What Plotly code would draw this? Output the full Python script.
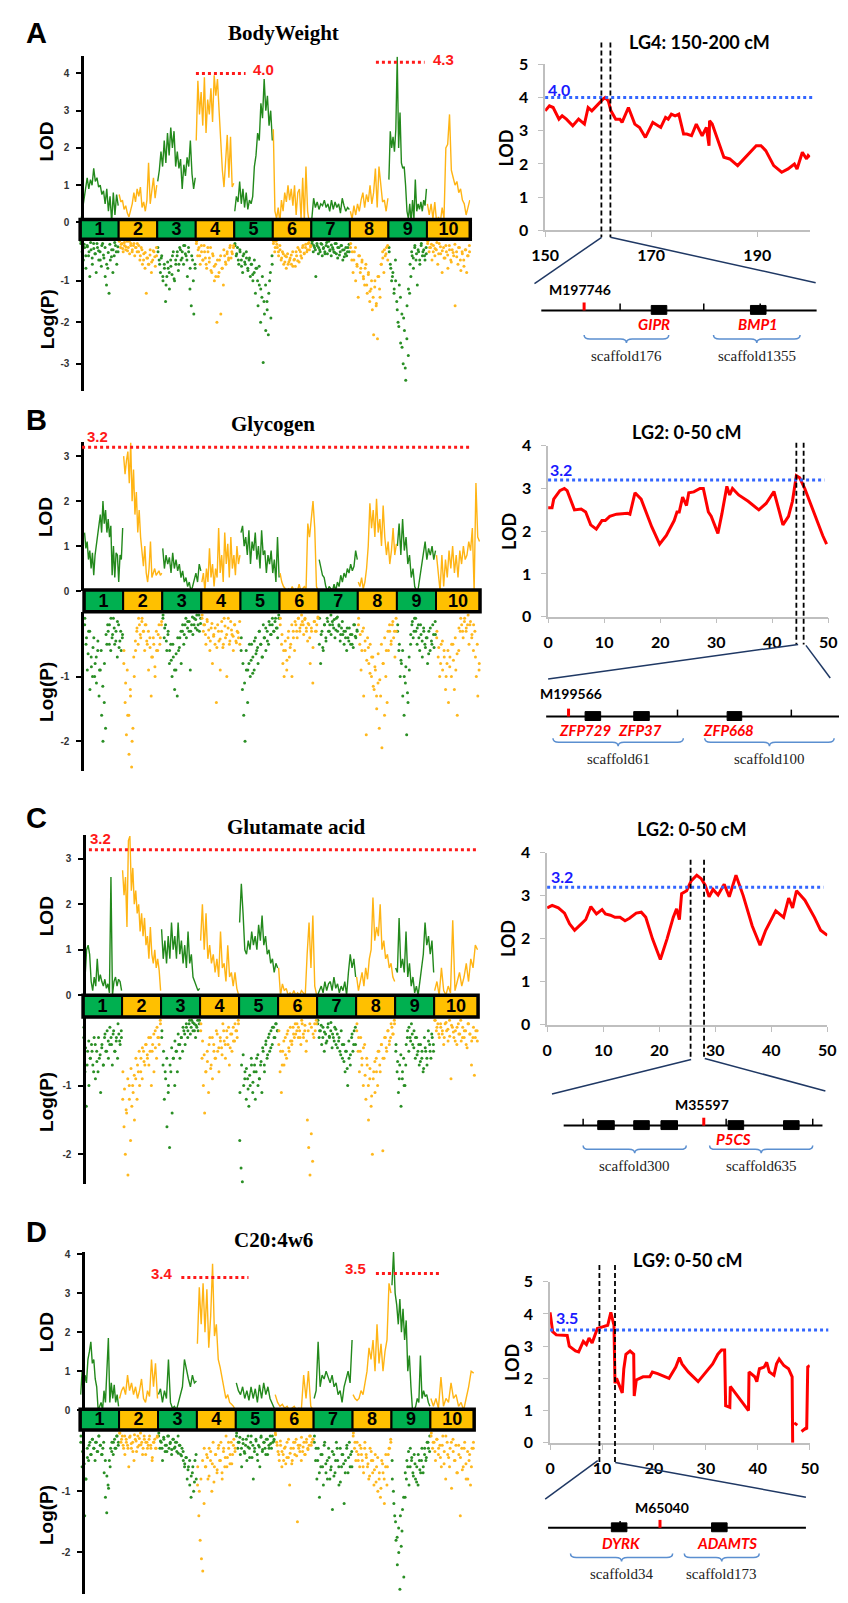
import plotly.graph_objects as go

W, H = 848, 1603

# ------------------------------------------------------------------ data
CHROMS = ['1', '2', '3', '4', '5', '6', '7', '8', '9', '10']
CHR_LEN = [40, 40, 40, 40, 40, 40, 40, 40, 40, 45]

# A  BodyWeight : LOD per linkage group (line) and -log10(P) per marker (dots)
BW_LOD = [
    [0.0, 0.3, 0.6, 0.9, 1.2, 0.9, 1.15, 1.0, 1.45, 1.1, 1.2, 0.95, 1.0, 0.75, 0.85, 0.5, 0.9, 0.3, 0.7, 0.0, 0.8, 0.2, 0.75, 0.45],
    [0.75, 0.55, 0.6, 0.35, 0.45, 0.25, 0.15, 0.3, 0.5, 0.8, 0.55, 0.9, 0.7, 0.95, 0.4, 0.55, 0.3, 0.6, 1.6, 0.5, 0.85, 1.2, 0.65, 1.0],
    [1.1, 1.4, 1.9, 1.5, 2.2, 1.6, 2.4, 1.8, 2.55, 2.0, 2.45, 1.5, 1.9, 1.45, 1.7, 0.9, 1.55, 1.25, 1.75, 1.5, 2.2, 1.3, 0.9, 1.2],
    [2.2, 3.8, 2.9, 3.5, 2.6, 3.9, 2.4, 3.3, 2.9, 3.6, 2.7, 3.95, 3.4, 3.85, 3.0, 2.1, 1.4, 0.95, 1.75, 2.35, 1.2, 2.3, 0.95, 1.05],
    [0.3, 0.7, 0.55, 1.1, 0.5, 0.9, 0.4, 0.8, 0.35, 0.6, 0.5, 0.7, 1.5, 1.8, 2.4, 2.2, 3.2, 2.8, 3.85, 3.0, 3.4, 2.6, 3.0, 2.2],
    [2.5, 0.3, 0.1, 0.4, 0.0, 0.6, 0.3, 0.8, 0.55, 1.0, 0.6, 0.9, 0.45, 1.0, 0.2, 0.8, 0.9, 0.1, 1.2, 0.05, 1.5, 0.3, 0.0, 0.1],
    [0.1, 0.65, 0.4, 0.55, 0.35, 0.5, 0.45, 0.6, 0.4, 0.5, 0.3, 0.6, 0.35, 0.55, 0.4, 0.5, 0.25, 0.65, 0.45, 0.3, 0.4, 0.35],
    [0.3, 0.1, 0.45, 0.2, 0.5, 0.3, 0.6, 0.8, 0.4, 0.75, 0.55, 1.0, 0.5, 0.8, 1.45, 0.4, 1.5, 0.9, 0.55, 0.6, 0.3, 0.65],
    [1.15, 2.45, 2.0, 2.3, 1.9, 2.5, 4.45, 2.0, 2.95, 1.6, 1.45, 1.5, 1.0, 0.3, 0.1, 0.5, 0.0, 0.6, 0.1, 1.15, 0.3, 0.5, 0.35, 0.55, 0.3, 0.6, 0.45, 0.9],
    [0.5, 0.2, 0.5, 0.1, 0.55, 0.0, 0.15, 0.0, 0.4, 0.1, 2.0, 2.1, 2.9, 1.4, 1.2, 1.0, 1.1, 0.8, 0.9, 0.6, 0.5, 0.2, 0.4, 0.6],
]
BW_NLOGP = [
    [0.1, 0.3, 0.5, 0.2, 0.7, 0.15, 0.4, 0.9, 0.25, 0.6, 0.1, 0.35, 0.8, 0.2, 0.5, 0.3, 0.65, 0.1, 0.45, 0.9, 1.1, 0.7, 1.3, 0.5, 0.25, 0.8, 0.4, 0.15, 0.6, 0.3],
    [0.05, 0.2, 0.1, 0.3, 0.15, 0.25, 0.05, 0.2, 0.35, 0.1, 0.3, 0.15, 0.4, 0.2, 0.1, 0.3, 0.5, 0.2, 0.6, 0.35, 0.7, 1.3, 0.45, 0.6, 0.25, 0.8, 0.5, 0.3, 0.65, 0.4],
    [0.2, 0.5, 0.8, 0.4, 1.0, 0.6, 1.5, 0.9, 0.7, 1.2, 0.5, 0.85, 0.3, 1.0, 0.6, 0.4, 0.75, 0.2, 0.5, 0.3, 0.6, 0.15, 0.4, 0.9, 0.3, 1.2, 1.6, 0.5, 1.8, 0.7],
    [0.1, 0.4, 0.2, 0.6, 0.3, 0.5, 0.15, 0.45, 0.7, 0.3, 0.55, 0.2, 0.8, 0.4, 1.0, 0.6, 2.0, 0.9, 0.5, 1.8, 0.7, 1.1, 0.4, 0.6, 0.3, 0.5, 0.2, 0.45, 0.35, 0.15],
    [0.1, 0.4, 0.2, 0.6, 0.3, 0.5, 0.8, 0.35, 0.6, 0.45, 0.7, 0.5, 0.9, 0.6, 1.0, 0.8, 1.3, 0.7, 1.6, 1.1, 2.0, 1.4, 2.97, 1.8, 2.2, 1.5, 2.3, 1.0, 1.9, 0.6],
    [0.1, 0.3, 0.05, 0.2, 0.4, 0.15, 0.5, 0.3, 0.6, 0.4, 0.7, 0.35, 0.55, 0.45, 0.6, 0.3, 0.5, 0.65, 0.4, 0.2, 0.55, 0.3, 0.45, 0.15, 0.35, 0.2, 0.3, 0.1, 0.25, 0.15],
    [0.1, 0.3, 0.2, 0.9, 0.15, 0.35, 0.25, 0.1, 0.4, 0.2, 0.3, 0.15, 0.35, 0.05, 0.25, 0.4, 0.2, 0.3, 0.1, 0.35, 0.45, 0.2, 0.3, 0.15, 0.5, 0.25, 0.35, 0.4, 0.2, 0.3],
    [0.2, 0.5, 0.8, 0.3, 1.0, 0.6, 1.4, 0.4, 0.7, 0.5, 0.9, 1.1, 0.6, 1.3, 0.8, 1.5, 1.2, 1.7, 2.3, 1.0, 1.6, 2.4, 0.9, 1.4, 0.6, 0.3, 0.8, 0.4, 0.2, 0.5],
    [0.2, 0.6, 1.0, 0.8, 1.2, 0.5, 1.5, 2.0, 1.1, 2.5, 1.8, 3.0, 2.2, 3.4, 1.6, 2.8, 1.3, 0.9, 0.4, 0.7, 0.2, 0.5, 1.1, 0.3, 0.6, 0.15, 0.4, 0.25, 0.5, 0.35],
    [0.1, 0.3, 0.2, 0.5, 0.15, 0.4, 0.25, 0.6, 0.1, 0.35, 0.8, 0.2, 0.45, 0.3, 0.7, 0.15, 0.5, 0.25, 0.4, 1.6, 0.3, 0.6, 0.2, 0.75, 0.35, 0.5, 0.25, 0.8, 0.4, 0.3],
]
BW_NLOGP_BAND = [
    [0.05, 0.25, 0.12, 0.4, 0.18, 0.3, 0.08, 0.45, 0.22, 0.35, 0.1, 0.28, 0.5, 0.15, 0.38, 0.2, 0.6, 0.32, 0.12, 0.42, 0.25, 0.08, 0.3, 0.18],
    [0.03, 0.12, 0.22, 0.08, 0.18, 0.28, 0.05, 0.15, 0.25, 0.1, 0.2, 0.3, 0.15, 0.4, 0.25, 0.5, 0.32, 0.45, 0.6, 0.38, 0.55, 0.28, 0.42, 0.2],
    [0.3, 0.6, 0.45, 0.9, 0.7, 1.1, 0.55, 0.8, 0.65, 0.4, 0.95, 0.5, 0.3, 0.6, 0.25, 0.45, 0.15, 0.35, 0.5, 0.2, 0.7, 0.4, 1.0, 0.6],
    [0.05, 0.25, 0.4, 0.15, 0.5, 0.3, 0.6, 0.2, 0.45, 0.75, 0.35, 0.65, 0.9, 0.5, 0.8, 0.4, 0.7, 0.25, 0.55, 0.35, 0.45, 0.15, 0.3, 0.2],
    [0.15, 0.35, 0.5, 0.25, 0.65, 0.4, 0.55, 0.3, 0.75, 0.45, 0.6, 0.85, 0.5, 0.7, 1.0, 0.65, 1.2, 0.9, 1.5, 1.1, 1.7, 1.3, 0.8, 0.4],
    [0.05, 0.2, 0.12, 0.3, 0.25, 0.45, 0.35, 0.55, 0.42, 0.6, 0.5, 0.38, 0.65, 0.48, 0.3, 0.52, 0.25, 0.4, 0.2, 0.33, 0.12, 0.25, 0.08, 0.18],
    [0.05, 0.15, 0.25, 0.1, 0.2, 0.3, 0.12, 0.22, 0.35, 0.08, 0.18, 0.28, 0.14, 0.24, 0.32, 0.1, 0.2, 0.38, 0.15, 0.26, 0.42, 0.2, 0.3, 0.12],
    [0.1, 0.3, 0.5, 0.2, 0.65, 0.4, 0.8, 0.55, 0.95, 0.7, 1.1, 0.85, 1.25, 1.0, 1.4, 1.15, 1.55, 0.9, 1.2, 0.6, 0.45, 0.25, 0.35, 0.15],
    [0.3, 0.7, 0.9, 1.3, 1.0, 1.7, 2.1, 1.4, 2.6, 1.9, 3.1, 2.4, 1.2, 0.6, 0.3, 0.45, 0.15, 0.35, 0.25, 0.5, 0.1, 0.3, 0.4, 0.2],
    [0.05, 0.2, 0.12, 0.3, 0.22, 0.08, 0.35, 0.18, 0.28, 0.45, 0.15, 0.38, 0.25, 0.55, 0.32, 0.12, 0.42, 0.2, 0.5, 0.3, 0.65, 0.25, 0.4, 0.15],
]
BW_THR = [4.0, 4.3]

# B  Glycogen
GLY_LOD = [
    [1.3, 0.95, 1.1, 0.7, 0.9, 0.5, 0.85, 0.35, 0.8, 1.0, 1.3, 1.5, 1.7, 1.3, 2.0, 1.5, 1.8, 1.3, 1.6, 1.2, 1.45, 0.35, 1.0, 0.3, 0.85, 0.8, 0.2, 0.8, 0.7, 1.4],
    [3.0, 2.6, 2.9, 3.1, 2.4, 3.3, 2.0, 2.7, 1.7, 2.2, 1.3, 1.8, 1.2, 0.8, 0.55, 1.0, 0.4, 0.2, 0.5, 1.1, 0.3, 0.4, 0.5, 0.35, 0.4, 0.45, 0.35, 0.4],
    [0.95, 0.5, 0.8, 0.6, 0.75, 0.4, 0.85, 0.5, 0.7, 0.45, 0.6, 0.3, 0.45, 0.2, 0.3, 0.1, 0.2, 0.0, 0.1, 0.25, 0.4, 0.2, 0.6, 0.45],
    [0.2, 0.4, 0.0, 0.5, 0.2, 0.95, 0.3, 0.6, 0.1, 0.5, 0.3, 1.4, 0.4, 0.8, 0.2, 1.3, 0.6, 1.05, 0.3, 1.2, 0.5, 0.8, 0.35, 1.0, 0.6, 0.8],
    [1.3, 1.45, 1.0, 1.2, 0.8, 1.35, 0.6, 1.1, 0.9, 1.3, 0.7, 1.0, 0.5, 1.35, 0.8, 0.9, 0.4, 0.8, 0.6, 0.9, 0.4, 0.7, 0.2, 1.2, 0.3],
    [0.4, 0.2, 0.1, 0.05, 0.0, 0.05, 0.0, 0.1, 0.0, 0.05, 0.0, 0.15, 0.0, 0.05, 0.1, 0.05, 1.5, 1.2, 1.6, 2.0, 1.4, 0.1, 0.0],
    [0.7, 0.5, 0.35, 0.3, 0.1, 0.0, 0.1, 0.05, 0.0, 0.15, 0.0, 0.2, 0.1, 0.35, 0.2, 0.4, 0.3, 0.5, 0.4, 0.6, 0.45, 0.55, 0.9, 0.7],
    [0.2, 0.1, 0.3, 0.05, 0.2, 0.5, 1.0, 1.95, 1.4, 1.8, 1.2, 2.05, 1.3, 1.6, 1.0, 1.9, 1.2, 0.8, 1.1, 0.6, 0.9, 1.4, 0.8, 1.05],
    [1.0, 1.5, 0.8, 1.6, 0.9, 1.2, 0.6, 0.8, 0.3, 0.5, 0.1, 0.0, 0.05, 0.3, 0.5, 0.8, 1.1, 0.7, 0.95, 0.8, 1.0, 0.7, 0.9],
    [0.8, 0.4, 0.0, 0.8, 0.1, 0.7, 0.3, 0.9, 0.5, 1.0, 0.4, 0.8, 0.3, 0.9, 0.6, 1.0, 0.7, 0.8, 1.1, 0.9, 1.4, 0.0, 2.4, 1.2, 1.1],
]
GLY_NLOGP = [
    [0.2, 0.5, 0.9, 0.3, 1.2, 0.7, 1.0, 0.4, 0.8, 1.1, 0.6, 1.3, 0.9, 1.6, 2.0, 1.4, 1.8, 0.5, 0.3, 0.2, 0.6, 0.4, 0.1, 0.5, 0.3, 0.7, 0.2, 0.45, 0.6, 0.35],
    [0.8, 1.4, 1.9, 1.6, 2.2, 1.2, 2.4, 1.8, 1.0, 0.6, 0.3, 0.5, 0.2, 0.4, 0.1, 0.3, 0.6, 0.2, 0.5, 0.9, 0.4, 1.3, 0.7, 0.5, 1.0, 0.3, 0.6, 0.2, 0.4, 0.15],
    [0.1, 0.4, 0.2, 0.6, 0.3, 0.8, 0.5, 1.0, 0.7, 1.2, 0.9, 1.3, 0.6, 0.4, 0.8, 0.3, 0.5, 0.2, 0.4, 0.15, 0.3, 0.9, 0.2, 0.35, 0.1, 0.25, 0.05, 0.2, 0.3, 0.1],
    [0.1, 0.3, 0.2, 0.5, 0.15, 0.4, 0.6, 0.25, 0.8, 0.35, 0.5, 1.4, 0.2, 0.45, 0.9, 0.3, 0.55, 0.1, 0.4, 1.0, 0.25, 0.5, 0.15, 0.35, 0.6, 0.2, 0.45, 0.3, 0.4, 0.5],
    [0.6, 1.2, 1.6, 2.0, 0.9, 1.4, 0.8, 1.0, 0.5, 0.7, 0.9, 0.4, 0.6, 0.8, 0.3, 0.5, 0.7, 0.2, 0.4, 0.6, 0.3, 0.5, 0.2, 0.35, 0.1, 0.3, 0.15, 0.25, 0.4, 0.1],
    [0.2, 0.5, 0.8, 1.0, 0.6, 0.9, 0.4, 0.7, 0.5, 1.0, 0.3, 0.6, 0.2, 0.4, 0.1, 0.3, 0.2, 0.15, 0.35, 0.1, 0.25, 0.45, 0.2, 0.8, 0.3, 1.1, 0.15, 0.3, 0.2, 0.1],
    [0.5, 0.8, 0.3, 0.6, 0.2, 0.4, 0.1, 0.3, 0.2, 0.35, 0.15, 0.25, 0.4, 0.1, 0.3, 0.2, 0.45, 0.25, 0.35, 0.5, 0.3, 0.6, 0.4, 0.25, 0.5, 0.35, 0.55, 0.2, 0.4, 0.3],
    [0.2, 0.5, 0.9, 0.3, 1.3, 0.6, 1.9, 0.4, 0.8, 0.5, 1.0, 0.7, 1.2, 0.9, 1.5, 1.1, 1.8, 1.3, 2.1, 0.8, 1.6, 1.0, 1.4, 0.6, 0.3, 0.5, 0.2, 0.4, 0.7, 0.3],
    [0.3, 0.6, 1.0, 0.8, 1.3, 1.6, 1.1, 1.9, 1.4, 0.9, 0.5, 0.2, 0.4, 0.1, 0.3, 0.5, 0.2, 0.6, 0.35, 0.7, 0.25, 0.5, 0.4, 0.8, 0.3, 0.6, 0.45, 0.2, 0.55, 0.35],
    [0.4, 0.7, 1.0, 0.5, 0.9, 0.6, 1.2, 0.8, 1.4, 0.7, 1.0, 0.5, 1.2, 0.9, 1.6, 0.6, 0.3, 0.2, 0.4, 0.1, 0.3, 0.2, 0.5, 0.15, 0.35, 0.6, 0.3, 1.0, 1.3, 0.8],
]
GLY_NLOGP_BAND = [
    [0.1, 0.4, 0.65, 0.3, 0.85, 0.55, 1.0, 0.7, 0.45, 0.9, 0.6, 1.15, 0.8, 0.35, 0.2, 0.5, 0.1, 0.35, 0.25, 0.45, 0.15, 0.55, 0.3, 0.4],
    [0.6, 1.1, 0.9, 1.6, 1.3, 2.0, 0.7, 0.45, 0.25, 0.1, 0.35, 0.15, 0.3, 0.2, 0.45, 0.3, 0.55, 0.7, 0.4, 0.85, 0.6, 0.35, 0.5, 0.2],
    [0.05, 0.25, 0.45, 0.35, 0.6, 0.75, 0.5, 0.9, 0.65, 0.4, 0.55, 0.3, 0.2, 0.35, 0.1, 0.25, 0.15, 0.3, 0.08, 0.2, 0.12, 0.28, 0.05, 0.18],
    [0.05, 0.2, 0.35, 0.12, 0.28, 0.45, 0.18, 0.38, 0.25, 0.55, 0.3, 0.42, 0.15, 0.5, 0.22, 0.35, 0.1, 0.45, 0.28, 0.38, 0.2, 0.48, 0.32, 0.15],
    [0.4, 0.8, 1.1, 0.6, 0.9, 0.5, 0.75, 0.95, 0.45, 0.65, 0.55, 0.3, 0.5, 0.7, 0.4, 0.25, 0.45, 0.15, 0.35, 0.2, 0.3, 0.1, 0.25, 0.05],
    [0.1, 0.35, 0.6, 0.45, 0.75, 0.3, 0.55, 0.2, 0.4, 0.15, 0.3, 0.1, 0.25, 0.05, 0.2, 0.12, 0.3, 0.18, 0.4, 0.25, 0.55, 0.15, 0.3, 0.08],
    [0.1, 0.35, 0.55, 0.2, 0.45, 0.15, 0.3, 0.05, 0.2, 0.12, 0.28, 0.08, 0.22, 0.35, 0.15, 0.3, 0.4, 0.25, 0.45, 0.35, 0.5, 0.2, 0.38, 0.28],
    [0.1, 0.35, 0.6, 0.25, 0.45, 0.75, 0.55, 0.95, 0.7, 1.15, 0.85, 1.3, 0.65, 1.05, 0.5, 0.8, 0.4, 0.6, 0.3, 0.2, 0.45, 0.15, 0.3, 0.1],
    [0.2, 0.5, 0.75, 0.6, 1.0, 0.85, 1.25, 0.7, 0.35, 0.15, 0.3, 0.1, 0.25, 0.4, 0.2, 0.45, 0.3, 0.55, 0.4, 0.65, 0.25, 0.5, 0.35, 0.15],
    [0.3, 0.55, 0.8, 0.45, 0.7, 1.0, 0.6, 0.85, 0.5, 0.75, 0.4, 0.65, 0.25, 0.1, 0.3, 0.15, 0.25, 0.05, 0.2, 0.4, 0.2, 0.7, 0.5, 0.9],
]
GLY_THR = [3.2]

# C  Glutamate acid
GLU_LOD = [
    [0.6, 0.4, 1.0, 1.1, 0.9, 0.3, 0.1, 0.4, 0.2, 0.8, 0.3, 0.45, 0.3, 0.2, 0.35, 0.15, 0.25, 0.05, 2.6, 0.0, 0.3, 0.4, 0.2, 0.35, 0.3, 0.1],
    [2.75, 2.2, 2.6, 1.5, 3.4, 3.5, 2.3, 2.8, 2.0, 2.3, 1.8, 2.0, 1.4, 1.8, 1.3, 1.7, 1.1, 1.3, 0.8, 1.5, 0.9, 0.7, 1.0, 0.6, 0.8, 0.55, 0.1],
    [1.45, 0.8, 1.2, 0.7, 1.3, 0.8, 1.6, 1.0, 1.3, 0.8, 1.6, 0.9, 1.2, 0.7, 1.1, 0.6, 1.4, 0.7, 0.9, 0.4, 0.3, 0.2, 0.1, 0.15],
    [1.2, 2.0, 1.0, 1.8, 0.8, 1.1, 0.7, 0.9, 0.5, 0.8, 0.4, 1.4, 0.6, 0.7, 0.3, 1.1, 0.4, 0.5, 0.2, 0.5, 0.15, 0.0],
    [1.6, 2.45, 1.8, 1.0, 0.9, 1.2, 1.0, 1.4, 1.1, 1.3, 1.0, 1.55, 1.2, 1.75, 1.1, 1.3, 0.9, 1.0, 0.7, 0.8, 0.5, 0.7, 0.6],
    [0.6, 0.0, 0.25, 0.1, 0.15, 0.0, 0.05, 0.0, 0.1, 0.0, 0.05, 0.0, 0.1, 0.05, 0.0, 0.9, 1.6, 0.6, 1.75, 0.2, 0.0],
    [0.0, 0.1, 0.2, 0.05, 0.3, 0.1, 0.25, 0.3, 0.1, 0.4, 0.15, 0.25, 0.05, 0.2, 0.1, 0.3, 0.0, 0.5, 0.9, 0.6, 0.8, 0.4],
    [0.4, 0.1, 0.3, 0.5, 0.2, 0.6, 0.35, 0.8, 1.0, 2.15, 1.2, 1.5, 1.3, 2.0, 1.0, 1.2, 0.8, 0.9, 0.6, 0.7, 0.4, 0.3],
    [0.6, 0.5, 1.7, 0.6, 0.8, 0.5, 1.4, 0.4, 0.7, 0.2, 0.4, 0.05, 0.2, 0.0, 0.3, 0.6, 0.9, 1.6, 1.1, 1.3, 0.9, 1.2, 0.5],
    [0.1, 0.3, 0.0, 0.6, 0.1, 0.0, 0.2, 0.05, 1.65, 0.1, 0.3, 0.5, 0.2, 0.4, 0.7, 0.3, 0.8, 0.6, 1.1, 1.0],
]
GLU_NLOGP = [
    [0.3, 0.8, 1.3, 0.5, 1.0, 0.6, 0.4, 0.7, 0.3, 0.9, 0.5, 0.8, 0.6, 1.1, 0.4, 0.7, 0.3, 0.5, 0.2, 0.6, 0.4, 0.3, 0.7, 0.2, 0.5, 0.35, 0.6, 0.25, 0.4, 0.3],
    [1.2, 1.6, 2.0, 1.4, 2.3, 1.0, 1.8, 1.3, 1.1, 1.5, 0.9, 1.2, 0.8, 1.0, 0.6, 0.9, 0.5, 0.7, 0.4, 0.6, 0.3, 0.5, 1.0, 0.4, 0.8, 0.2, 0.6, 0.3, 0.4, 0.1],
    [0.3, 0.7, 1.2, 0.9, 1.6, 1.1, 1.9, 0.8, 1.4, 0.6, 1.0, 0.5, 0.8, 0.4, 0.6, 0.3, 0.5, 0.2, 0.4, 0.15, 0.3, 0.1, 0.25, 0.05, 0.2, 0.1, 0.3, 0.15, 0.2, 0.05],
    [0.2, 0.6, 1.0, 1.4, 0.8, 0.5, 1.1, 0.3, 0.7, 0.9, 0.4, 0.6, 0.2, 0.5, 0.8, 0.3, 0.45, 0.1, 0.35, 0.6, 0.2, 0.4, 0.7, 0.25, 0.5, 0.15, 0.35, 0.2, 0.3, 0.1],
    [1.8, 2.2, 2.4, 1.0, 0.8, 1.2, 0.9, 1.3, 1.0, 0.7, 1.1, 0.8, 1.2, 0.6, 1.0, 0.9, 0.7, 1.1, 0.5, 0.8, 0.4, 0.6, 0.3, 0.5, 0.2, 0.4, 0.15, 0.3, 0.1, 0.2],
    [0.4, 0.8, 1.1, 0.5, 0.7, 0.3, 0.6, 0.2, 0.5, 0.35, 0.4, 0.15, 0.3, 0.25, 0.1, 0.3, 0.2, 0.4, 0.1, 0.3, 0.2, 0.5, 1.5, 1.9, 2.3, 1.7, 2.1, 0.3, 0.2, 0.1],
    [0.1, 0.3, 0.2, 0.4, 0.15, 0.5, 0.25, 0.35, 0.1, 0.3, 0.2, 0.45, 0.3, 0.15, 0.4, 0.25, 0.35, 0.5, 0.2, 0.6, 0.4, 0.8, 0.5, 1.0, 0.6, 0.7, 0.3, 0.5, 0.2, 0.4],
    [0.2, 0.5, 0.8, 0.3, 0.6, 1.0, 0.4, 1.2, 0.7, 1.5, 0.9, 1.3, 2.0, 0.8, 1.1, 0.6, 1.0, 0.5, 0.8, 0.4, 1.95, 0.6, 0.3, 0.5, 0.2, 0.4, 0.3, 0.15, 0.25, 0.1],
    [0.5, 0.8, 1.1, 0.7, 1.3, 0.9, 0.6, 1.0, 0.4, 0.2, 0.5, 0.3, 0.1, 0.4, 0.2, 0.6, 0.3, 0.5, 0.7, 0.4, 0.6, 0.8, 0.3, 0.5, 0.7, 0.2, 0.4, 0.6, 0.3, 0.5],
    [0.05, 0.2, 0.1, 0.3, 0.15, 0.25, 0.4, 0.1, 0.2, 0.35, 0.05, 0.9, 0.15, 0.3, 0.2, 0.4, 0.1, 0.25, 0.35, 0.15, 0.3, 0.2, 0.45, 0.1, 0.25, 0.7, 0.3, 0.85, 0.2, 0.35],
]
GLU_NLOGP_BAND = [
    [0.15, 0.45, 0.7, 0.35, 0.6, 0.5, 0.8, 0.4, 0.65, 0.3, 0.55, 0.45, 0.7, 0.25, 0.5, 0.35, 0.15, 0.4, 0.25, 0.5, 0.3, 0.1, 0.35, 0.2],
    [0.8, 1.05, 1.35, 0.9, 1.2, 0.75, 1.0, 0.85, 0.6, 0.7, 0.5, 0.8, 0.45, 0.65, 0.4, 0.55, 0.7, 0.3, 0.5, 0.25, 0.45, 0.15, 0.3, 0.05],
    [0.2, 0.5, 0.8, 0.6, 1.0, 0.7, 0.45, 0.6, 0.35, 0.5, 0.25, 0.4, 0.3, 0.15, 0.25, 0.1, 0.2, 0.05, 0.15, 0.08, 0.2, 0.12, 0.05, 0.1],
    [0.1, 0.35, 0.55, 0.8, 0.65, 0.4, 0.75, 0.3, 0.5, 0.6, 0.25, 0.45, 0.35, 0.55, 0.2, 0.4, 0.3, 0.15, 0.45, 0.25, 0.35, 0.1, 0.2, 0.05],
    [1.1, 0.7, 0.55, 0.9, 0.75, 1.05, 0.85, 0.6, 0.95, 0.7, 0.8, 0.55, 0.9, 0.65, 0.45, 0.7, 0.35, 0.55, 0.25, 0.45, 0.15, 0.3, 0.1, 0.2],
    [0.2, 0.5, 0.7, 0.35, 0.55, 0.25, 0.45, 0.15, 0.35, 0.25, 0.1, 0.2, 0.15, 0.3, 0.05, 0.25, 0.12, 0.35, 0.2, 0.1, 0.15, 0.25, 0.1, 0.05],
    [0.05, 0.2, 0.12, 0.3, 0.22, 0.38, 0.15, 0.28, 0.08, 0.25, 0.35, 0.18, 0.45, 0.3, 0.55, 0.4, 0.65, 0.5, 0.75, 0.35, 0.55, 0.25, 0.4, 0.15],
    [0.1, 0.3, 0.5, 0.7, 0.45, 0.85, 0.6, 1.0, 0.75, 1.15, 0.9, 0.65, 0.8, 0.5, 0.7, 0.4, 0.6, 0.3, 0.45, 0.2, 0.35, 0.1, 0.25, 0.05],
    [0.4, 0.65, 0.9, 0.55, 0.8, 1.0, 0.7, 0.3, 0.15, 0.35, 0.25, 0.45, 0.3, 0.55, 0.4, 0.65, 0.5, 0.75, 0.45, 0.6, 0.35, 0.5, 0.25, 0.4],
    [0.05, 0.15, 0.25, 0.1, 0.2, 0.3, 0.08, 0.18, 0.28, 0.12, 0.22, 0.35, 0.15, 0.25, 0.05, 0.3, 0.2, 0.4, 0.1, 0.25, 0.35, 0.15, 0.3, 0.2],
]
GLU_THR = [3.2]

# D  C20:4w6
ARA_LOD = [
    [0.4, 1.0, 0.5, 0.9, 0.7, 1.3, 1.5, 1.75, 1.2, 1.3, 0.8, 0.6, 0.0, 0.1, 0.2, 0.0, 0.5, 0.2, 1.0, 1.85, 0.2, 0.7, 0.3, 0.65, 0.2, 0.4, 0.1],
    [0.3, 0.5, 0.6, 0.4, 0.9, 0.5, 0.7, 0.4, 0.6, 0.3, 0.5, 0.8, 0.3, 0.2, 0.5, 0.35, 1.3, 0.6, 1.2, 0.3],
    [0.4, 0.55, 0.2, 0.5, 0.3, 1.3, 0.2, 0.05, 0.1, 0.0, 0.2, 0.4, 0.6, 1.3, 1.0, 0.8, 0.6, 0.9, 0.7, 0.75],
    [1.7, 3.15, 2.2, 3.25, 2.0, 3.1, 1.6, 2.4, 3.75, 1.9, 2.2, 1.3, 1.1, 0.8, 0.5, 0.3, 0.4, 0.2, 0.15, 0.1, 0.0],
    [0.7, 0.5, 0.4, 0.6, 0.3, 0.5, 0.25, 0.6, 0.3, 0.55, 0.2, 0.65, 0.3, 0.7, 0.4, 0.6, 0.3, 0.15, 0.05],
    [0.4, 0.2, 0.1, 0.15, 0.05, 0.1, 0.0, 0.05, 0.1, 0.0, 0.05, 0.0, 0.9, 0.3, 1.0, 0.1, 0.0],
    [0.3, 0.5, 1.75, 0.6, 0.9, 0.8, 1.0, 0.85, 0.7, 0.9, 0.6, 0.7, 0.4, 0.5, 0.2, 0.6, 0.8, 1.0, 0.7, 1.8],
    [0.4, 0.3, 0.25, 0.3, 0.5, 0.4, 0.7, 1.0, 1.6, 1.3, 1.8, 1.0, 2.2, 1.2, 1.7, 1.0, 1.5, 1.8, 3.25, 3.0],
    [3.2, 4.05, 3.0, 2.7, 2.2, 2.85, 2.0, 2.6, 1.8, 2.3, 1.0, 1.4, 0.6, 0.0, 0.0, 0.1, 0.3, 0.2, 1.4, 0.3, 0.5, 0.35, 0.4, 0.2, 0.1],
    [0.3, 0.1, 0.3, 0.05, 0.85, 0.1, 0.3, 0.2, 0.7, 0.3, 0.4, 0.1, 0.2, 0.0, 0.3, 0.6, 1.0, 0.95],
]
ARA_NLOGP = [
    [0.2, 0.6, 1.0, 1.4, 0.8, 0.3, 0.5, 0.2, 0.4, 0.15, 0.3, 0.5, 0.2, 0.35, 0.1, 0.25, 0.4, 0.3, 0.7, 1.1, 1.35, 0.9, 0.5, 0.3, 0.2, 0.4, 0.15, 0.3, 0.1, 0.2],
    [0.05, 0.2, 0.1, 0.3, 0.4, 0.15, 0.25, 0.6, 0.1, 0.3, 0.2, 0.5, 0.15, 0.35, 0.1, 0.25, 0.05, 0.2, 0.3, 0.15, 0.4, 0.2, 0.25, 0.1, 0.3, 0.5, 0.2, 0.15, 0.3, 0.1],
    [0.1, 0.3, 0.2, 0.5, 0.15, 0.35, 0.25, 0.1, 0.3, 0.2, 0.4, 0.15, 0.3, 0.2, 0.35, 0.1, 0.25, 0.4, 0.3, 0.5, 0.6, 0.45, 0.8, 0.6, 0.9, 1.1, 0.7, 1.0, 0.5, 0.8],
    [0.9, 1.4, 1.8, 2.1, 2.3, 1.2, 0.6, 0.4, 0.8, 0.3, 0.5, 1.0, 0.2, 0.6, 0.4, 0.7, 0.3, 0.5, 0.2, 0.8, 0.35, 0.6, 0.1, 0.45, 0.3, 0.55, 0.2, 0.4, 0.15, 0.3],
    [0.1, 0.3, 0.2, 0.4, 0.6, 0.15, 0.35, 0.25, 0.5, 0.1, 0.3, 0.2, 0.45, 0.8, 0.3, 0.15, 0.4, 0.25, 0.6, 0.1, 0.35, 0.2, 0.3, 0.15, 0.4, 0.25, 0.1, 0.3, 0.2, 0.15],
    [0.05, 0.2, 0.35, 0.5, 0.25, 0.6, 0.4, 0.3, 0.55, 0.2, 0.45, 0.9, 0.3, 0.5, 0.2, 0.4, 0.15, 1.5, 0.3, 0.25, 0.5, 0.35, 0.2, 0.4, 0.15, 0.3, 0.25, 0.1, 0.2, 0.15],
    [0.2, 0.5, 0.8, 0.3, 1.1, 0.6, 0.4, 0.9, 0.2, 0.7, 0.5, 0.3, 0.8, 0.6, 1.3, 0.4, 0.7, 0.2, 0.5, 0.9, 0.3, 0.6, 0.4, 1.2, 0.5, 0.3, 0.7, 0.2, 0.4, 0.6],
    [0.1, 0.3, 0.5, 0.2, 0.4, 0.6, 0.3, 0.5, 0.7, 0.2, 0.4, 0.6, 0.8, 0.3, 0.5, 0.7, 0.9, 0.4, 0.6, 1.0, 0.8, 1.1, 0.5, 0.7, 1.2, 0.6, 0.9, 0.4, 0.3, 0.2],
    [0.5, 1.0, 1.4, 1.8, 2.2, 1.6, 2.6, 1.9, 1.3, 2.4, 1.1, 0.8, 0.6, 0.9, 0.3, 0.5, 0.7, 0.4, 0.8, 0.6, 0.9, 0.5, 0.7, 0.3, 0.6, 0.4, 0.5, 0.2, 0.3, 0.1],
    [0.1, 0.3, 0.2, 0.5, 0.15, 0.4, 0.25, 0.6, 0.1, 0.35, 0.8, 0.2, 0.45, 0.3, 0.95, 0.15, 0.5, 0.25, 0.7, 0.4, 1.4, 0.3, 0.6, 0.2, 0.8, 0.35, 0.5, 0.9, 0.3, 0.2],
]
ARA_NLOGP_BAND = [
    [0.1, 0.35, 0.55, 0.8, 0.45, 0.25, 0.4, 0.15, 0.3, 0.2, 0.35, 0.1, 0.25, 0.4, 0.2, 0.5, 0.75, 0.95, 0.6, 0.35, 0.2, 0.3, 0.1, 0.25],
    [0.05, 0.15, 0.25, 0.1, 0.2, 0.3, 0.12, 0.22, 0.35, 0.08, 0.18, 0.28, 0.14, 0.24, 0.4, 0.1, 0.2, 0.3, 0.15, 0.25, 0.45, 0.2, 0.3, 0.12],
    [0.05, 0.18, 0.3, 0.12, 0.25, 0.35, 0.1, 0.22, 0.32, 0.15, 0.28, 0.2, 0.38, 0.25, 0.42, 0.35, 0.55, 0.45, 0.65, 0.5, 0.75, 0.6, 0.85, 0.4],
    [0.6, 1.0, 0.8, 0.5, 0.3, 0.6, 0.45, 0.75, 0.35, 0.55, 0.85, 0.4, 0.65, 0.25, 0.5, 0.7, 0.3, 0.45, 0.6, 0.2, 0.4, 0.55, 0.25, 0.35],
    [0.05, 0.2, 0.12, 0.3, 0.22, 0.38, 0.15, 0.28, 0.45, 0.1, 0.25, 0.35, 0.18, 0.5, 0.28, 0.12, 0.32, 0.2, 0.4, 0.15, 0.3, 0.22, 0.1, 0.18],
    [0.08, 0.25, 0.4, 0.18, 0.35, 0.5, 0.28, 0.45, 0.15, 0.38, 0.55, 0.3, 0.2, 0.42, 0.25, 0.35, 0.12, 0.28, 0.4, 0.2, 0.32, 0.1, 0.25, 0.15],
    [0.1, 0.3, 0.5, 0.7, 0.4, 0.6, 0.25, 0.55, 0.8, 0.45, 0.65, 0.35, 0.75, 0.5, 0.3, 0.6, 0.85, 0.4, 0.55, 0.7, 0.25, 0.45, 0.6, 0.35],
    [0.05, 0.2, 0.35, 0.5, 0.25, 0.4, 0.6, 0.3, 0.45, 0.55, 0.75, 0.35, 0.5, 0.65, 0.85, 0.45, 0.7, 0.95, 0.55, 0.8, 0.4, 0.6, 0.3, 0.15],
    [0.8, 1.2, 1.5, 1.75, 2.0, 1.4, 1.65, 1.1, 0.7, 0.5, 0.35, 0.6, 0.45, 0.75, 0.55, 0.85, 0.4, 0.65, 0.5, 0.7, 0.3, 0.45, 0.2, 0.35],
    [0.05, 0.2, 0.35, 0.15, 0.3, 0.45, 0.25, 0.55, 0.1, 0.4, 0.6, 0.2, 0.35, 0.5, 0.7, 0.25, 0.45, 0.65, 0.3, 0.55, 0.8, 0.4, 0.6, 0.3],
]
ARA_THR = [3.4, 3.5]

# Fine-mapping curves (cM, LOD)
LG4_POINTS = [(150.0, 3.6), (150.8, 3.75), (151.5, 3.7), (152.6, 3.35), (153.2, 3.45), (154.0, 3.35), (155.2, 3.15),
              (156.3, 3.35), (157.4, 3.2), (158.1, 3.7), (158.8, 3.6), (159.9, 3.8), (160.9, 3.95), (161.3, 4.0),
              (161.9, 3.9), (162.4, 3.6), (163.3, 3.35), (164.1, 3.35), (164.5, 3.25), (165.7, 3.7), (166.9, 3.2),
              (167.8, 3.1), (168.9, 2.8), (170.3, 3.25), (171.8, 3.1), (172.7, 3.4), (173.2, 3.35), (173.8, 3.5),
              (174.5, 3.45), (175.2, 3.5), (176.1, 2.9), (176.7, 2.9), (177.6, 2.85), (178.5, 3.2), (179.6, 2.85),
              (180.4, 3.1), (180.9, 2.55), (181.0, 3.3), (181.5, 3.2), (183.7, 2.2), (184.8, 2.15), (186.3, 1.95),
              (188.1, 2.25), (189.8, 2.55), (190.7, 2.55), (191.6, 2.4), (193.1, 1.95), (194.6, 1.75), (195.8, 1.85),
              (197.0, 2.0), (197.5, 1.85), (198.5, 2.35), (199.3, 2.15), (199.6, 2.25), (199.9, 2.2)]
LG4_THR = 4.0
LG4_MARKERS = [160.6, 162.3]

LG2_GLY_POINTS = [(0, 2.55), (0.7, 2.55), (1.0, 2.75), (2.1, 2.95), (2.9, 3.0), (3.4, 2.95), (4.7, 2.5), (5.9, 2.52),
                  (6.7, 2.45), (7.6, 2.15), (8.6, 2.05), (9.6, 2.25), (10.2, 2.25), (11.0, 2.35), (12.2, 2.4),
                  (13.3, 2.42), (14.2, 2.42), (14.6, 2.4), (15.5, 2.9), (16.6, 2.75), (17.5, 2.45), (18.5, 2.1),
                  (19.9, 1.7), (21.1, 1.9), (22.5, 2.25), (23.0, 2.45), (23.4, 2.45), (24.0, 2.8), (24.7, 2.6),
                  (25.1, 2.9), (26.0, 2.92), (27.1, 3.0), (27.7, 3.0), (28.6, 2.45), (29.1, 2.35), (30.3, 1.95),
                  (31.0, 2.4), (31.9, 3.05), (32.4, 2.85), (32.9, 3.0), (34.0, 2.85), (35.7, 2.7), (37.6, 2.5),
                  (38.9, 2.65), (40.3, 2.93), (41.9, 2.15), (42.9, 2.35), (43.6, 2.7), (44.3, 3.3), (44.9, 3.25),
                  (45.8, 3.0), (47.2, 2.5), (49.0, 1.9), (49.7, 1.7)]
LG2_GLY_THR = 3.2
LG2_GLY_MARKERS = [44.3, 45.6]

LG2_GLU_POINTS = [(0, 2.72), (0.9, 2.78), (2.0, 2.72), (3.1, 2.6), (4.0, 2.35), (4.9, 2.2), (6.1, 2.35), (6.9, 2.45),
                  (7.8, 2.75), (8.8, 2.58), (9.8, 2.68), (10.4, 2.58), (11.3, 2.55), (12.1, 2.5), (13.0, 2.5),
                  (13.9, 2.42), (14.7, 2.48), (15.9, 2.6), (16.8, 2.62), (17.6, 2.5), (18.8, 2.0), (20.2, 1.52),
                  (21.4, 2.0), (22.5, 2.5), (23.1, 2.7), (23.6, 2.45), (24.0, 3.05), (24.9, 3.12), (25.7, 3.35),
                  (26.7, 3.48), (27.5, 3.4), (28.2, 3.25), (28.9, 2.98), (29.6, 3.15), (30.5, 3.02), (31.6, 3.27),
                  (32.5, 2.98), (33.7, 3.48), (35.0, 3.0), (36.6, 2.3), (38.0, 1.85), (39.0, 2.2), (40.8, 2.65),
                  (42.2, 2.5), (43.1, 2.95), (43.8, 2.72), (44.5, 3.12), (46.0, 2.9), (47.7, 2.5), (48.8, 2.2),
                  (50.0, 2.08)]
LG2_GLU_THR = 3.2
LG2_GLU_MARKERS = [25.6, 28.0]

LG9_POINTS = [(0, 4.05), (0.5, 3.45), (1.2, 3.35), (3.3, 3.33), (3.7, 3.0), (4.9, 2.85), (5.5, 2.82), (6.4, 3.15),
              (7.0, 3.05), (7.5, 3.25), (8.1, 3.1), (8.6, 3.3), (9.1, 3.55), (10.1, 3.6), (11.1, 3.65), (11.7, 4.05),
              (12.3, 3.65), (12.5, 1.85), (12.8, 2.0), (13.9, 1.55), (14.2, 2.3), (14.6, 2.75), (15.4, 2.85),
              (16.1, 2.75), (16.2, 1.45), (16.6, 1.95), (17.9, 2.05), (19.2, 2.05), (19.7, 2.2), (20.7, 2.15),
              (22.9, 2.0), (24.2, 2.35), (24.9, 2.65), (25.4, 2.45), (26.6, 2.2), (28.5, 1.9), (30.4, 2.25),
              (31.3, 2.45), (32.3, 2.75), (33.0, 2.88), (33.6, 2.88), (33.8, 1.15), (34.6, 1.1), (34.7, 1.75),
              (38.2, 1.0), (38.3, 2.2), (39.4, 2.05), (39.8, 1.9), (40.3, 2.3), (41.2, 2.35), (41.7, 2.5),
              (42.2, 2.2), (43.1, 2.1), (43.6, 2.45), (44.1, 2.6), (45.0, 2.4), (45.9, 2.3), (46.6, 2.05),
              (46.7, 0.0), (46.8, None), (47.0, 0.62), (47.6, 0.55), (47.7, None), (48.4, 0.35), (49.2, 0.45),
              (49.4, 0.42), (49.6, 2.35), (50.0, 2.4)]
LG9_THR = 3.5
LG9_MARKERS = [9.5, 12.5]

# ------------------------------------------------------------------ styling helpers
SANS = 'Liberation Sans'
SERIF = 'Liberation Serif'
CAL = 'Lato'
GREEN_L, ORANGE_L = '#23891c', '#ffb414'
GREEN_D, ORANGE_D = '#2a8f25', '#ffb81e'
BOX_G, BOX_Y = '#00b050', '#ffc000'

STARTS = []
_acc = 0
for _L in CHR_LEN:
    STARTS.append(_acc)
    _acc += _L
TOTAL = _acc

layout = dict(width=W, height=H, margin=dict(l=0, r=0, t=0, b=0), paper_bgcolor='white',
              plot_bgcolor='rgba(0,0,0,0)', showlegend=False)
traces, shapes, annots = [], [], []
counter = [0]


def X(px):
    return px / W


def Y(py):
    return 1 - py / H


def add_axes(xpx, ypx, xr, yr, xkw=None, ykw=None):
    counter[0] += 1
    k = counter[0]
    sx = '' if k == 1 else str(k)
    xid, yid = 'x' + sx, 'y' + sx
    xa = dict(domain=[X(xpx[0]), X(xpx[1])], range=xr, anchor=yid, showgrid=False, zeroline=False, fixedrange=True)
    ya = dict(domain=[Y(ypx[1]), Y(ypx[0])], range=yr, anchor=xid, showgrid=False, zeroline=False, fixedrange=True)
    xa.update(xkw if xkw else dict(visible=False))
    ya.update(ykw if ykw else dict(visible=False))
    layout['xaxis' + sx] = xa
    layout['yaxis' + sx] = ya
    return xid, yid


def text(s, x, y, size, color='black', family=SANS, angle=0, xanchor='center'):
    annots.append(dict(text=s, x=X(x), y=Y(y), xref='paper', yref='paper', showarrow=False,
                       font=dict(family=family, size=size, color=color), textangle=angle,
                       xanchor=xanchor, yanchor='middle'))


def pline(x0, y0, x1, y1, color, width, dash=None):
    ln = dict(color=color, width=width)
    if dash:
        ln['dash'] = dash
    shapes.append(dict(type='line', xref='paper', yref='paper', x0=X(x0), y0=Y(y0), x1=X(x1), y1=Y(y1), line=ln))


def dots(lists, xid, yid):
    for par, col in ((0, GREEN_D), (1, ORANGE_D)):
        xs, ys = [], []
        for vals_all in lists:
            for c in range(par, 10, 2):
                vals = vals_all[c]
                n = len(vals)
                s, L = STARTS[c], CHR_LEN[c]
                xs += [s + (j + 0.5) * L / n for j in range(n)]
                ys += [-v for v in vals]
        traces.append(go.Scatter(x=xs, y=ys, mode='markers', marker=dict(color=col, size=3),
                                 xaxis=xid, yaxis=yid, hoverinfo='skip', cliponaxis=False))


def left_panel(lod, nlogp, band, g, title, letter, thr, thr_geom):
    bl, br = g['box_l'], g['box_r']
    axline = dict(visible=True, showline=True, linecolor='black', linewidth=2.5, ticks='outside', ticklen=5,
                  tickwidth=1.5, tickcolor='black', anchor='free', position=X(g['axis_x']),
                  tickfont=dict(family=SANS, size=10, color='#333', weight='bold'), ticklabelstandoff=5)
    # upper: LOD lines
    ytop = (g['up_zero'] - g['up_top']) / g['up_unit']
    xid, yid = add_axes((bl, br), (g['up_top'], g['up_zero']), [0, TOTAL], [0, ytop], None,
                        dict(axline, tickvals=g['up_ticks'], ticktext=[str(v) for v in g['up_ticks']]))
    for par, col in ((0, GREEN_L), (1, ORANGE_L)):
        xs, ys = [], []
        for c in range(par, 10, 2):
            vals = lod[c]
            n = len(vals)
            s, L = STARTS[c], CHR_LEN[c]
            xs += [s + 0.5 + j * (L - 1.0) / (n - 1) for j in range(n)] + [None]
            ys += list(vals) + [None]
        traces.append(go.Scatter(x=xs, y=ys, mode='lines', line=dict(color=col, width=1.4),
                                 xaxis=xid, yaxis=yid, hoverinfo='skip'))
    for v, (x0, x1, lx, ly) in zip(thr, thr_geom):
        shapes.append(dict(type='line', xref='paper', yref=yid, x0=X(x0), x1=X(x1), y0=v, y1=v,
                           line=dict(color='#ff1a1a', width=3, dash='dot')))
        text('<b>%.1f</b>' % v, lx, ly, 15, '#ff1a1a')
    # lower: -log10(P) dots
    ybot = -(g['low_bot'] - g['box_b']) / g['low_unit']
    xid2, yid2 = add_axes((bl, br), (g['box_b'], g['low_bot']), [0, TOTAL], [ybot, 0], None,
                          dict(axline, tickvals=[-v for v in g['low_ticks']],
                               ticktext=['-%d' % v for v in g['low_ticks']]))
    dots([nlogp, band], xid2, yid2)
    # chromosome boxes
    h = g['box_b'] - g['box_t']
    xid3, yid3 = add_axes((bl, br), (g['box_t'] - 0.15 * h, g['box_b'] + 0.15 * h), [0, TOTAL], [-0.15, 1.15])
    centers = [s + L / 2 for s, L in zip(STARTS, CHR_LEN)]
    traces.append(go.Bar(x=centers, y=[1] * 10, base=0, width=CHR_LEN,
                         marker=dict(color=[BOX_G if i % 2 == 0 else BOX_Y for i in range(10)],
                                     line=dict(color='black', width=2)),
                         xaxis=xid3, yaxis=yid3, hoverinfo='skip'))
    traces.append(go.Scatter(x=centers, y=[0.45] * 10, text=CHROMS, mode='text',
                             textfont=dict(family=SANS, size=18, color='black', weight='bold'),
                             xaxis=xid3, yaxis=yid3, hoverinfo='skip'))
    shapes.append(dict(type='rect', xref='paper', yref='paper', x0=X(bl), x1=X(br), y0=Y(g['box_b']),
                       y1=Y(g['box_t']), line=dict(color='black', width=3.5), fillcolor='rgba(0,0,0,0)',
                       layer='above'))
    # labels
    text('<b>%s</b>' % letter, g['letter'][0], g['letter'][1], 29)
    text('<b>%s</b>' % title, g['title'][0], g['title'][1], 21, family=SERIF)
    text('<b>LOD</b>', 33, g['lod_y'], 19, angle=-90)
    text('<b>Log(P)</b>', 34, g['logp_y'], 19, angle=-90)


def brace(x0, x1, y, color='#5b8fd0'):
    xm = (x0 + x1) / 2.0

    def p(a, b):
        return '%.5f,%.5f' % (X(a), Y(b))
    path = ('M %s Q %s %s L %s Q %s %s Q %s %s L %s Q %s %s' %
            (p(x0, y - 4), p(x0, y), p(x0 + 6, y), p(xm - 6, y), p(xm, y), p(xm, y + 4),
             p(xm, y), p(xm + 6, y), p(x1 - 6, y), p(x1, y), p(x1, y - 4)))
    shapes.append(dict(type='path', xref='paper', yref='paper', path=path, line=dict(color=color, width=1.5)))


def right_panel(points, thr, markers, g, title, d):
    xs = [p[0] for p in points]
    ys = [p[1] for p in points]
    xr, yr = g['xr'], g['yr']
    gray = '#bfbfbf'
    tf = dict(family=CAL, size=16, color='black', weight='bold')
    xid, yid = add_axes((g['x0'], g['x1']), (g['top'], g['zero']), xr, yr,
                        dict(visible=True, showline=True, linecolor=gray, linewidth=1.5, ticks='outside',
                             ticklen=5, tickcolor=gray, tickvals=g['xticks'], tickfont=tf, ticklabelstandoff=5),
                        dict(visible=True, showline=True, linecolor=gray, linewidth=1.5, ticks='outside',
                             ticklen=5, tickcolor=gray, tickvals=list(range(yr[1] + 1)), tickfont=tf,
                             ticklabelstandoff=7))
    traces.append(go.Scatter(x=xs, y=ys, mode='lines', line=dict(color='#ff0000', width=3), connectgaps=False,
                             xaxis=xid, yaxis=yid, hoverinfo='skip'))
    shapes.append(dict(type='line', xref='paper', yref=yid, x0=X(g['x0']), x1=X(g['thr_x1']), y0=thr, y1=thr,
                       line=dict(color='#3366ff', width=3, dash='dot')))
    text('<b>%.1f</b>' % thr, g['thr_lbl'][0], g['thr_lbl'][1], 16, '#1a1aff', family=CAL)
    for m in markers:
        px = g['x0'] + (m - xr[0]) / (xr[1] - xr[0]) * (g['x1'] - g['x0'])
        pline(px, g['mk_top'], px, g['mk_bot'], 'black', 1.8, '5px,3px')
    text('<b>%s</b>' % title, g['title_xy'][0], g['title_xy'][1], 18, family=CAL)
    text('<b>LOD</b>', g['lod_xy'][0], g['lod_xy'][1], 18, family=CAL, angle=-90)
    # zoomed physical map
    for (a, b, c, e) in d['conn']:
        pline(a, b, c, e, '#1f3864', 1.5)
    ly = d['y']
    pline(d['x0'], ly, d['x1'], ly, 'black', 2)
    for tx in d['ticks']:
        pline(tx, ly - 7, tx, ly, 'black', 1.5)
    for (a, b) in d['boxes']:
        shapes.append(dict(type='rect', xref='paper', yref='paper', x0=X(a), x1=X(b), y0=Y(ly + 4),
                           y1=Y(ly - 5), fillcolor='black', line=dict(color='black', width=1)))
    pline(d['red'], ly - 8, d['red'], ly, '#ff0000', 3)
    text('<b>%s</b>' % d['marker'][0], d['marker'][1], d['marker'][2], 14, family=CAL)
    for (nm, a, b) in d['genes']:
        text('<b><i>%s</i></b>' % nm, a, b, 15, '#ff0000', family=CAL)
    for (a, b, yb, nm) in d['braces']:
        brace(a, b, yb)
        text(nm, (a + b) / 2.0, yb + 17, 15, '#222222', family=SERIF)


# ------------------------------------------------------------------ panels
GA = dict(axis_x=70, box_l=68, box_r=469, up_top=47, up_zero=215, up_unit=37.7, box_t=212, box_b=232,
          low_bot=386, low_unit=42, up_ticks=[0, 1, 2, 3, 4], low_ticks=[1, 2, 3],
          letter=(23, 23), title=(277, 23), lod_y=133, logp_y=313)
GB = dict(axis_x=70, box_l=72, box_r=479, up_top=437, up_zero=588, up_unit=45.5, box_t=587, box_b=609,
          low_bot=770, low_unit=65.5, up_ticks=[0, 1, 2, 3], low_ticks=[1, 2],
          letter=(23, 415), title=(266, 419), lod_y=513, logp_y=690)
GC = dict(axis_x=72, box_l=71, box_r=477, up_top=835, up_zero=997, up_unit=46, box_t=997, box_b=1019,
          low_bot=1188, low_unit=69.5, up_ticks=[0, 1, 2, 3], low_ticks=[1, 2],
          letter=(23, 818), title=(290, 827), lod_y=917, logp_y=1105)
GD = dict(axis_x=71, box_l=68, box_r=473, up_top=1257, up_zero=1417, up_unit=39.5, box_t=1416, box_b=1437,
          low_bot=1603, low_unit=62, up_ticks=[0, 1, 2, 3, 4], low_ticks=[1, 2],
          letter=(23, 1237), title=(267, 1245), lod_y=1338, logp_y=1523)

left_panel(BW_LOD, BW_NLOGP, BW_NLOGP_BAND, GA, 'BodyWeight', 'A', BW_THR, [(187, 238, 256, 60), (372, 422, 441, 50)])
left_panel(GLY_LOD, GLY_NLOGP, GLY_NLOGP_BAND, GB, 'Glycogen', 'B', GLY_THR, [(70, 470, 86, 432)])
left_panel(GLU_LOD, GLU_NLOGP, GLU_NLOGP_BAND, GC, 'Glutamate acid', 'C', GLU_THR, [(77, 475, 89, 838)])
left_panel(ARA_LOD, ARA_NLOGP, ARA_NLOGP_BAND, GD, 'C20:4w6', 'D', ARA_THR, [(172, 241, 152, 1279), (372, 438, 351, 1274)])

RA = dict(x0=546, x1=818.5, xr=[150, 200], xticks=[150, 170, 190], zero=223, top=55, yr=[0, 5], thr_x1=822,
          thr_lbl=(560, 80), title_xy=(705, 32), lod_xy=(506, 140), mk_top=33, mk_bot=230)
RB = dict(x0=549, x1=837, xr=[0, 50], xticks=[0, 10, 20, 30, 40, 50], zero=614, top=441, yr=[0, 4], thr_x1=833,
          thr_lbl=(562, 465), title_xy=(691, 427), lod_xy=(509, 528), mk_top=438, mk_bot=642)
RC = dict(x0=548, x1=836, xr=[0, 50], xticks=[0, 10, 20, 30, 40, 50], zero=1027, top=853, yr=[0, 4], thr_x1=832,
          thr_lbl=(563, 877), title_xy=(696, 829), lod_xy=(508, 940), mk_top=860, mk_bot=1061)
RD = dict(x0=551, x1=818, xr=[0, 50], xticks=[0, 10, 20, 30, 40, 50], zero=1450, top=1287, yr=[0, 5], thr_x1=837,
          thr_lbl=(568, 1323), title_xy=(692, 1265), lod_xy=(512, 1369), mk_top=1270, mk_bot=1470)

DA = dict(conn=[(604, 230, 535, 277), (613, 230, 824, 276)], y=304, x0=542, x1=825, ticks=[623, 709, 767],
          boxes=[(655, 671), (757, 773)], red=586, marker=('M197746', 582, 283),
          genes=[('GIPR', 658, 318), ('BMP1', 765, 318)],
          braces=[(586, 673, 333, 'scaffold176'), (719, 808, 333, 'scaffold1355')])
DB = dict(conn=[(806, 642, 549, 677), (814, 643, 839, 676)], y=715, x0=547, x1=848, ticks=[682, 799],
          boxes=[(587, 603), (637, 653), (733, 748)], red=570, marker=('M199566', 573, 692),
          genes=[('ZFP729', 587, 729), ('ZFP37', 643, 729), ('ZFP668', 734, 729)],
          braces=[(554, 688, 741, 'scaffold61'), (710, 843, 741, 'scaffold100')])
DC = dict(conn=[(696, 1062, 553, 1097), (710, 1061, 834, 1094)], y=1129, x0=565, x1=831, ticks=[585, 732, 821],
          boxes=[(600, 617), (637, 653), (665, 682), (734, 750), (791, 807)], red=709,
          marker=('M35597', 707, 1108), genes=[('P5CS', 740, 1143)],
          braces=[(585, 691, 1153, 'scaffold300'), (715, 821, 1153, 'scaffold635')])
DD = dict(conn=[(600, 1468, 546, 1507), (618, 1470, 814, 1505)], y=1536, x0=549, x1=814, ticks=[623],
          boxes=[(614, 630), (717, 733)], red=664, marker=('M65040', 666, 1515),
          genes=[('DYRK', 624, 1551), ('ADAMTS', 733, 1551)],
          braces=[(572, 677, 1566, 'scaffold34'), (689, 766, 1566, 'scaffold173')])

right_panel(LG4_POINTS, LG4_THR, LG4_MARKERS, RA, 'LG4: 150-200 cM', DA)
right_panel(LG2_GLY_POINTS, LG2_GLY_THR, LG2_GLY_MARKERS, RB, 'LG2: 0-50 cM', DB)
right_panel(LG2_GLU_POINTS, LG2_GLU_THR, LG2_GLU_MARKERS, RC, 'LG2: 0-50 cM', DC)
right_panel(LG9_POINTS, LG9_THR, LG9_MARKERS, RD, 'LG9: 0-50 cM', DD)

layout['shapes'] = shapes
layout['annotations'] = annots
fig = go.Figure(data=traces, layout=layout)
fig.write_html('out.html', config={'displayModeBar': False},
               post_script="document.body.style.margin='0px';document.body.style.overflow='hidden';")
